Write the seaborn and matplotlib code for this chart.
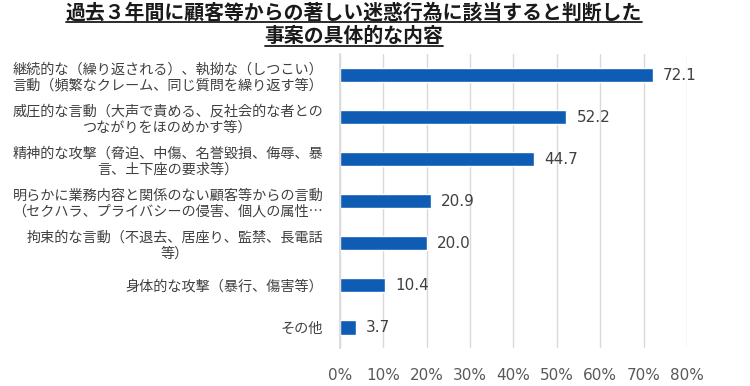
import matplotlib
matplotlib.use("Agg")
import matplotlib.pyplot as plt
import seaborn as sns
import pandas as pd

# data
categories = [
    "継続的な（繰り返される）、執拗な（しつこい）\n言動（頻繁なクレーム、同じ質問を繰り返す等）",
    "威圧的な言動（大声で責める、反社会的な者との\nつながりをほのめかす等）",
    "精神的な攻撃（脅迫、中傷、名誉毀損、侮辱、暴\n言、土下座の要求等）",
    "明らかに業務内容と関係のない顧客等からの言動\n（セクハラ、プライバシーの侵害、個人の属性…",
    "拘束的な言動（不退去、居座り、監禁、長電話\n等）",
    "身体的な攻撃（暴行、傷害等）",
    "その他",
]
values = [72.1, 52.2, 44.7, 20.9, 20.0, 10.4, 3.7]
x_ticks = [0, 10, 20, 30, 40, 50, 60, 70, 80]
x_tick_labels = [f"{t}%" for t in x_ticks]
title_lines = ["過去３年間に顧客等からの著しい迷惑行為に該当すると判断した", "事案の具体的な内容"]

df = pd.DataFrame({"category": categories, "value": values})

sns.set_theme(style="white")
plt.rcParams["font.family"] = ["Noto Sans CJK JP", "DejaVu Sans"]

fig = plt.figure(figsize=(7.5, 3.86), dpi=100)
ax = fig.add_axes([0.4533, 0.098, 0.4627, 0.762])

sns.barplot(data=df, x="value", y="category", orient="h", color="#0E5CB4",
            width=0.35, saturation=1, ax=ax)

ax.set_xlim(0, 80)
ax.set_xticks(x_ticks)
ax.set_xticklabels(x_tick_labels, fontsize=11, color="#595959", family="DejaVu Sans")
ax.set_yticks(range(len(categories)))
ax.set_yticklabels(categories, fontsize=10.2, color="#404040",
                   multialignment="center", linespacing=1.2)
ax.tick_params(axis="x", length=0, pad=14)
ax.tick_params(axis="y", length=0, pad=12)

ax.grid(axis="x", color="#D9D9D9", linewidth=1)
ax.set_axisbelow(True)
for s in ["top", "right", "bottom"]:
    ax.spines[s].set_visible(False)
ax.spines["left"].set_color("#D9D9D9")
ax.set_xlabel("")
ax.set_ylabel("")

# value labels
for i, v in enumerate(values):
    ax.text(v + 2.3, i, f"{v:.1f}", va="center", ha="left", fontsize=11,
            color="#404040", family="DejaVu Sans")

# title, two centered lines, each underlined
renderer = fig.canvas.get_renderer()
for line, y, uy in zip(title_lines, [0.969, 0.907], [0.942, 0.880]):
    t = fig.text(0.472, y, line, ha="center", va="center", fontsize=14.3,
                 fontweight="bold", color="#1a1a1a")
    bb = t.get_window_extent(renderer).transformed(fig.transFigure.inverted())
    fig.add_artist(plt.Line2D([bb.x0, bb.x1], [uy, uy], color="#1a1a1a", lw=1.3))

fig.savefig("out.png", dpi=100)
